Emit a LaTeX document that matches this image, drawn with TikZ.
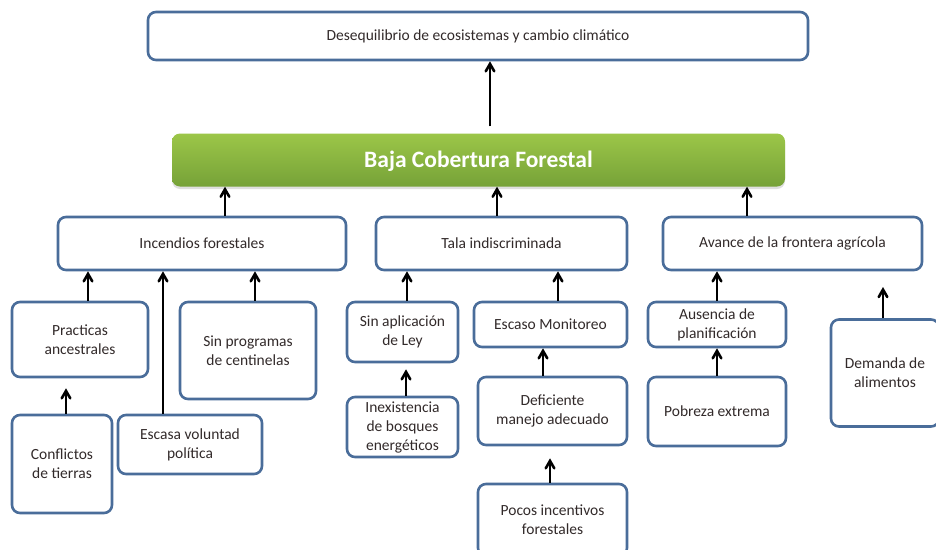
\documentclass[tikz,border=0pt]{standalone}
\usepackage{fontspec}
\setmainfont{Carlito}
\usetikzlibrary{arrows,shadows}
\definecolor{boxblue}{RGB}{74,109,154}
\definecolor{textgrey}{RGB}{50,42,42}
\definecolor{greentop}{RGB}{156,198,72}
\definecolor{greenbottom}{RGB}{118,162,56}
\tikzstyle{causa}=[draw=boxblue,line width=2.6pt,rounded corners=8pt,fill=white,align=center,inner sep=2pt,text=textgrey,font=\fontsize{15.5}{19}\selectfont]
\tikzstyle{central}=[rounded corners=8pt,top color=greentop,bottom color=greenbottom,text=white,text depth=2pt,font=\bfseries\fontsize{23.5}{28}\selectfont,drop shadow={opacity=0.25,shadow xshift=0pt,shadow yshift=-2.5pt}]
\tikzstyle{edge}=[draw,line width=2.6pt,->,>=angle 60]

\begin{document}
\begin{tikzpicture}[x=1pt,y=-1pt]
	\useasboundingbox (0,0) rectangle (936,549);
	\clip (0,0) rectangle (936,549);

	% First the problem in the middle
	\node[central,minimum width=613pt,minimum height=53pt] (problema) at (478.5,160) {Baja Cobertura Forestal};

	% Then the boxes for effect and causes
	\foreach \pos/\name/\w/\h/\txt in {{(478,36)/efecto/660/48/{Desequilibrio de ecosistemas y cambio climático}},
		{(202,243.5)/incendios/288/53/{Incendios forestales}}, {(501.5,243.5)/tala/251/53/{Tala indiscriminada}},
		{(792.5,243.5)/avance/259/53/{Avance de la frontera agrícola}},
		{(80,339.5)/practicas/136/75/{Practicas\\ancestrales}}, {(248,350.5)/centinelas/136/97/{Sin programas\\de centinelas}},
		{(62,464)/conflictos/100/98/{Conflictos\\de tierras}}, {(190,444.5)/voluntad/144/59/{Escasa voluntad\\política}},
		{(402.5,332)/aplicacion/111/60/{Sin aplicación\\de Ley}}, {(402.5,427)/inexistencia/111/60/{Inexistencia\\de bosques\\energéticos}},
		{(550.5,324.5)/monitoreo/153/45/{Escaso Monitoreo}}, {(552.5,411)/deficiente/149/68/{Deficiente\\manejo adecuado}},
		{(552.5,520)/pocos/149/72/{Pocos incentivos\\forestales}},
		{(717,324.5)/ausencia/138/45/{Ausencia de\\planificación}}, {(717,411.5)/pobreza/138/69/{Pobreza extrema}},
		{(885,373)/demanda/108/107/{Demanda de\\alimentos}}}
	\node[causa,minimum width=\w pt,minimum height=\h pt] (\name) at \pos {\txt};

	% Connect causes upwards with arrows
	\foreach \source/\dest/\x/\gap in {incendios/problema/225/0, tala/problema/497/0, avance/problema/747/0,
		practicas/incendios/88/0, voluntad/incendios/163/0, centinelas/incendios/255/0, conflictos/practicas/66/10,
		aplicacion/tala/407/0, inexistencia/aplicacion/406/6, monitoreo/tala/558/0, deficiente/monitoreo/543/0,
		pocos/deficiente/550/12, ausencia/avance/717/0, pobreza/ausencia/717/0}
	{
		\coordinate (col) at (\x,0);
		\path[edge,shorten >=\gap pt] (\source.north -| col) -- (\dest.south -| col);
	}

	\coordinate (col) at (490,0);
	\path[edge,shorten <=7pt] (problema.north -| col) -- (efecto.south -| col);

	\coordinate (demanda end) at (883,287);
	\path[edge] (demanda.north -| demanda end) -- (demanda end);
\end{tikzpicture}
\end{document}
